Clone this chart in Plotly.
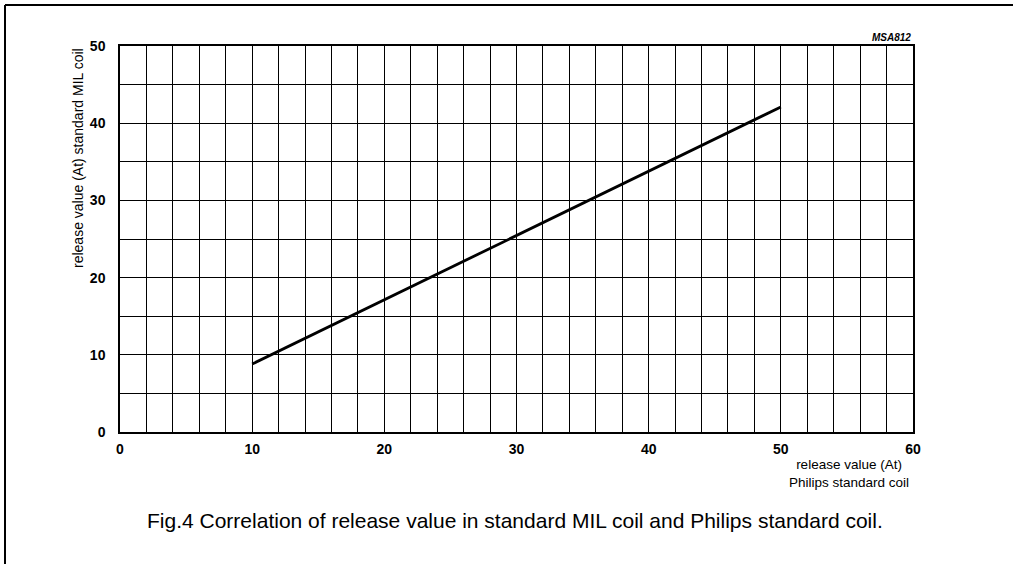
import plotly.graph_objects as go

# Data
philips_at = [10, 50]
mil_at = [8.8, 42.1]
x_ticks = [0, 10, 20, 30, 40, 50, 60]
y_ticks = [0, 10, 20, 30, 40, 50]

W, H = 1013, 564
fig = go.Figure()
fig.add_trace(go.Scatter(x=philips_at, y=mil_at, mode="lines",
                         line=dict(color="black", width=2.8), showlegend=False,
                         hoverinfo="skip"))

axis_common = dict(showline=True, linecolor="black", linewidth=1.5, mirror=True,
                   showgrid=True, gridcolor="black", gridwidth=1.3,
                   zeroline=False, ticks="",
                   tickfont=dict(family="Liberation Sans", size=14, color="black", weight="bold"))

fig.update_xaxes(range=[0, 60], tickvals=x_ticks, ticktext=[str(v) for v in x_ticks],
                 minor=dict(dtick=2, showgrid=True, gridcolor="black", gridwidth=1.3, tick0=0),
                 ticklabelstandoff=3, **axis_common)
fig.update_yaxes(range=[0, 50], tickvals=y_ticks, ticktext=[str(v) for v in y_ticks],
                 minor=dict(dtick=5, showgrid=True, gridcolor="black", gridwidth=1.3, tick0=0),
                 ticklabelstandoff=10, **axis_common)

annotations = [
    dict(text="<b><i>MSA812</i></b>", x=60, y=1, xref="x", yref="paper",
         xanchor="right", yanchor="bottom", yshift=1, showarrow=False,
         font=dict(family="Liberation Sans", size=10, color="black")),
    dict(text="release value (At) standard MIL coil", x=0, y=50, xref="paper", yref="y",
         xshift=-42, xanchor="center", yanchor="top", textangle=-90, showarrow=False,
         font=dict(family="Liberation Sans", size=14, color="black")),
    dict(text="release value (At)<br>Philips standard coil", x=60, y=0, xref="x", yref="y",
         xanchor="right", yanchor="top", yshift=-23, xshift=-2, align="center", showarrow=False,
         font=dict(family="Liberation Sans", size=13.5, color="black")),
    dict(text="Fig.4 Correlation of release value in standard MIL coil and Philips standard coil.",
         x=0.4975, y=-0.228, xref="paper", yref="paper", xanchor="center", yanchor="middle",
         showarrow=False,
         font=dict(family="Liberation Sans", size=21, color="black")),
]

fig.update_layout(
    width=W, height=H,
    margin=dict(l=120, r=100, t=46, b=132),
    paper_bgcolor="white", plot_bgcolor="white",
    annotations=annotations,
    shapes=[
        dict(type="line", xref="paper", yref="paper", x0=-115/793, x1=1.2, y0=1 + 41/386, y1=1 + 41/386,
             line=dict(color="black", width=2)),
        dict(type="line", xref="paper", yref="paper", x0=-115/793, x1=-115/793, y0=-1, y1=1 + 41/386,
             line=dict(color="black", width=2)),
    ],
)

fig.write_html("out.html")
